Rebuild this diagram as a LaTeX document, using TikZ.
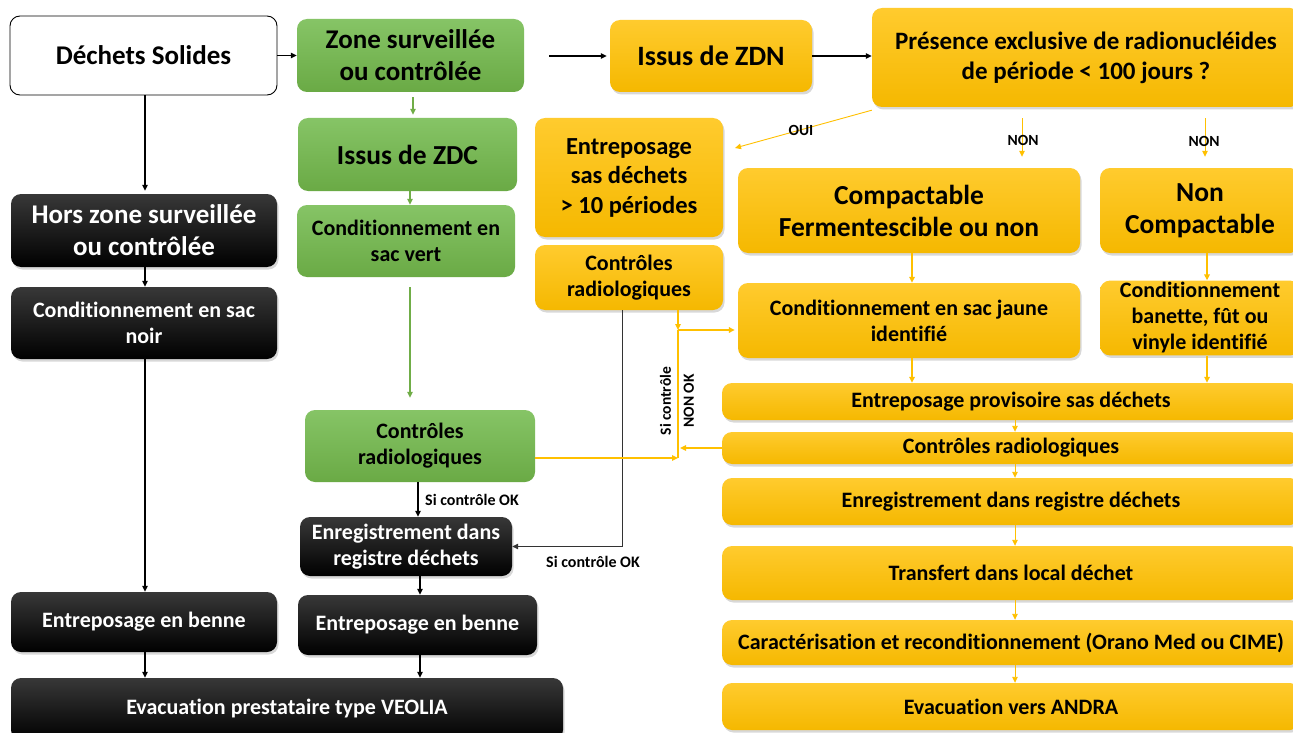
\documentclass[tikz,border=0pt]{standalone}
\usepackage{fontspec}
\setmainfont{Carlito}[Ligatures=NoCommon]
\usetikzlibrary{arrows.meta,shadows,calc}
\definecolor{gtop}{HTML}{86C466}
\definecolor{gbot}{HTML}{6AAA45}
\definecolor{ytop}{HTML}{FFCB2E}
\definecolor{ybot}{HTML}{F5B800}
\definecolor{ktop}{HTML}{383838}
\definecolor{kbot}{HTML}{000000}
\definecolor{yline}{HTML}{FFC000}
\definecolor{gline}{HTML}{70AD47}
\begin{document}
\begin{tikzpicture}[x=1pt,y=-1pt,
  base/.style={rectangle, rounded corners=10pt, inner sep=2pt, align=center, font=\bfseries\fontsize{22}{26}\selectfont},
  gbox/.style={base, top color=gtop, bottom color=gbot},
  ybox/.style={base, top color=ytop, bottom color=ybot, drop shadow={opacity=0.3,shadow xshift=1.5pt,shadow yshift=-2.5pt}},
  kbox/.style={base, top color=ktop, bottom color=kbot, text=white, drop shadow={opacity=0.3,shadow xshift=1.5pt,shadow yshift=-2.5pt}},
  wbox/.style={base, fill=white, draw=black, line width=0.9pt},
  big/.style={font=\bfseries\fontsize{27}{32}\selectfont},
  huge/.style={font=\bfseries\fontsize{27.5}{32}\selectfont},
  lbl/.style={font=\bfseries\fontsize{15.5}{18}\selectfont, inner sep=1pt},
  tip/.style={-{Triangle[length=6pt,width=5.5pt]}},
  karr/.style={tip, line width=1.2pt, black},
  kthin/.style={tip, line width=0.9pt, black!80},
  garr/.style={tip, line width=1.1pt, gline},
  yarr/.style={tip, line width=1.6pt, yline},
  yln/.style={line width=1.6pt, yline},
]
\useasboundingbox (0,0) rectangle (1293,733);
\fill[white] (0,0) rectangle (1293,733);

% nodes
\node[wbox, big, minimum width=267pt, minimum height=79pt] (ds) at (143.5,55.5) {Déchets Solides};
\node[gbox, big, minimum width=227pt, minimum height=73pt] (zone) at (410.5,55.5) {Zone surveillée\\ou contrôlée};
\node[ybox, font=\bfseries\fontsize{28}{32}\selectfont, minimum width=202pt, minimum height=72pt] (zdn) at (711,56) {Issus de ZDN};
\node[ybox, font=\bfseries\fontsize{25}{30}\selectfont, minimum width=428pt, minimum height=99pt] (pres) at (1086,57.5) {Présence exclusive de radionucléides\\de période < 100 jours ?};
\node[gbox, font=\bfseries\fontsize{27.5}{32}\selectfont, minimum width=219pt, minimum height=73pt] (zdc) at (407.5,154.5) {Issus de ZDC};
\node[kbox, big, minimum width=266pt, minimum height=73pt] (hors) at (144,230.5) {Hors zone surveillée\\ou contrôlée};
\node[gbox, minimum width=218pt, minimum height=72pt] (vert) at (406,241) {Conditionnement en\\sac vert};
\node[ybox, font=\bfseries\fontsize{24.5}{29.5}\selectfont, minimum width=188pt, minimum height=119pt] (sas) at (629,177.5) {Entreposage\\sas déchets\\> 10 périodes};
\node[ybox, minimum width=188pt, minimum height=65pt] (ctrly) at (629,277.5) {Contrôles\\radiologiques};
\node[ybox, huge, minimum width=342pt, minimum height=85pt] (comp) at (909,210.5) {Compactable\\Fermentescible ou non};
\node[ybox, huge, minimum width=200pt, minimum height=85pt] (noncomp) at (1200,210.5) {Non\\Compactable};
\node[kbox, minimum width=266pt, minimum height=72pt] (noir) at (144,323) {Conditionnement en sac\\noir};
\node[ybox, minimum width=342pt, minimum height=75pt] (jaune) at (909,320.5) {Conditionnement en sac jaune\\identifié};
\node[ybox, minimum width=200pt, minimum height=74pt] (banette) at (1200,318) {Conditionnement\\banette, fût ou\\vinyle identifié};
\node[ybox, minimum width=578pt, minimum height=37pt] (provis) at (1011,401.5) {Entreposage provisoire sas déchets};
\node[ybox, minimum width=578pt, minimum height=32pt] (ctrlw) at (1011,448) {Contrôles radiologiques};
\node[gbox, minimum width=230pt, minimum height=72pt] (ctrlg) at (420,446) {Contrôles\\radiologiques};
\node[kbox, minimum width=212pt, minimum height=59pt] (enrb) at (406,546.5) {Enregistrement dans\\registre déchets};
\node[ybox, minimum width=578pt, minimum height=47pt] (enrw) at (1011,501.5) {Enregistrement dans registre déchets};
\node[kbox, minimum width=266pt, minimum height=60pt] (bennel) at (144,622) {Entreposage en benne};
\node[kbox, minimum width=239pt, minimum height=60pt] (bennem) at (417.5,625) {Entreposage en benne};
\node[ybox, minimum width=578pt, minimum height=54pt] (transf) at (1011,573) {Transfert dans local déchet};
\node[kbox, minimum width=552pt, minimum height=62pt] (veolia) at (287,709) {Evacuation prestataire type VEOLIA};
\node[ybox, minimum width=578pt, minimum height=45pt] (caract) at (1011,642.5) {Caractérisation et reconditionnement (Orano Med ou CIME)};
\node[ybox, minimum width=578pt, minimum height=47pt] (andra) at (1011,706.5) {Evacuation vers ANDRA};

% column coordinates
\coordinate (c145) at (145,0);
\coordinate (c413) at (413,0);
\coordinate (c410) at (410,0);
\coordinate (c418) at (418,0);
\coordinate (c420) at (420,0);
\coordinate (c622) at (622,0);
\coordinate (c678) at (678,0);
\coordinate (c912) at (912,0);
\coordinate (c1022) at (1022,0);
\coordinate (c1205) at (1205,0);
\coordinate (c1207) at (1207,0);
\coordinate (c1015) at (1015,0);

% top row black connectors
\draw[karr] (ds.east) -- (zone.west);
\draw[karr, shorten <=25pt, shorten >=3pt] (zone.east |- zdn.west) -- (zdn.west);
\draw[karr] (zdn.east) -- (zdn.east -| pres.west);

% OUI / NON
\coordinate (ouiend) at (735,148);
\draw[tip, line width=0.9pt, yline] ([yshift=-3pt]pres.south west) -- (ouiend);
\node[lbl] at (801,130) {OUI};
\draw[yarr, line width=1pt, shorten <=11pt, shorten >=11pt] (pres.south -| c1022) -- (comp.north -| c1022);
\node[lbl] at (1023,140) {NON};
\draw[yarr, line width=1pt, shorten <=11pt, shorten >=11pt] (pres.south -| c1205) -- (noncomp.north -| c1205);
\node[lbl] at (1204,141) {NON};

% green column
\draw[garr, shorten <=5pt, shorten >=3pt] (zone.south -| c413) -- (zdc.north -| c413);
\draw[garr] (zdc.south -| c410) -- (vert.north -| c410);
\draw[garr, shorten <=10pt, shorten >=12pt] (vert.south -| c410) -- (ctrlg.north -| c410);
\draw[karr] (ctrlg.south -| c418) -- (enrb.north -| c418);
\node[lbl, anchor=west, font=\bfseries\fontsize{16}{18}\selectfont] at (424,500) {Si contrôle OK};
\draw[karr] (enrb.south -| c420) -- (bennem.north -| c420);
\draw[karr] (bennem.south -| c420) -- (veolia.north -| c420);

% left column
\draw[karr, shorten >=3pt] (ds.south -| c145) -- (hors.north -| c145);
\draw[karr] (hors.south -| c145) -- (noir.north -| c145);
\draw[karr] (noir.south -| c145) -- (bennel.north -| c145);
\draw[karr] (bennel.south -| c145) -- (veolia.north -| c145);

% control small -> registre
\draw[kthin] (ctrly.south -| c622) |- (enrb.east);
\node[lbl, anchor=west, font=\bfseries\fontsize{16}{18}\selectfont] at (545,562) {Si contrôle OK};

% yellow NON OK network
\coordinate (j1) at (678,330);
\coordinate (j2) at (678,458);
\draw[yarr] (ctrly.south -| c678) -- (j1);
\draw[yarr, shorten >=3pt] (j1) -- (jaune.west |- j1);
\draw[yln] (j1) -- (j2);
\draw[yarr] (ctrlg.east |- j2) -- (j2);
\draw[yarr] (ctrlw.west) -- ([xshift=2pt]ctrlw.west -| j2);
\node[lbl, rotate=90, align=center, font=\bfseries\fontsize{15.5}{23}\selectfont] at (677,401) {Si contrôle\\NON OK};

% right column
\draw[yarr] (comp.south -| c912) -- (jaune.north -| c912);
\draw[yarr] (noncomp.south -| c1207) -- (banette.north -| c1207);
\draw[yarr] (jaune.south -| c912) -- (provis.north -| c912);
\draw[yarr] (banette.south -| c1207) -- (provis.north -| c1207);
\draw[yarr, line width=0.9pt] (provis.south -| c1015) -- (ctrlw.north -| c1015);
\draw[yarr, line width=0.9pt] (ctrlw.south -| c1015) -- (enrw.north -| c1015);
\draw[yarr, line width=0.9pt] (enrw.south -| c1015) -- (transf.north -| c1015);
\draw[yarr, line width=0.9pt] (transf.south -| c1015) -- (caract.north -| c1015);
\draw[yarr, line width=0.9pt] (caract.south -| c1015) -- (andra.north -| c1015);
\end{tikzpicture}
\end{document}
